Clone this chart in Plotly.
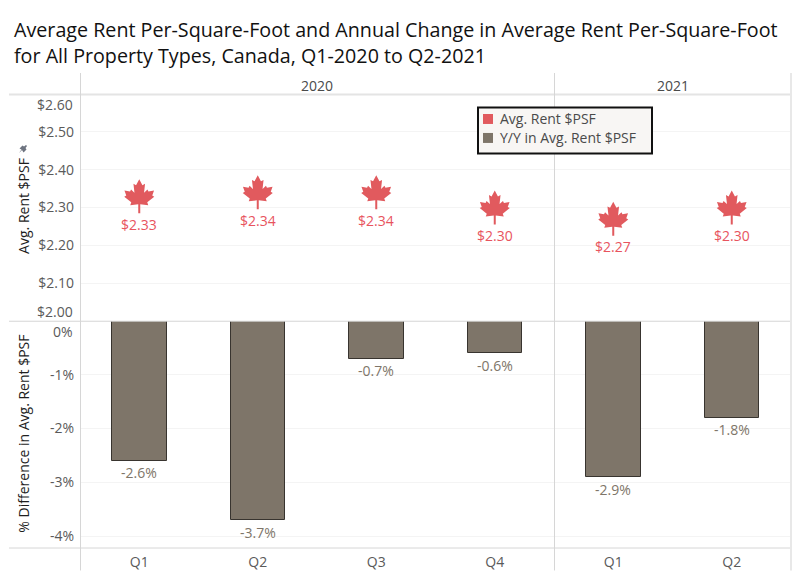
import plotly.graph_objects as go

# Quarterly rent figures, Canada
years = ["2020", "2021"]
quarters = ["Q1", "Q2", "Q3", "Q4", "Q1", "Q2"]
avg_rent = [2.33, 2.34, 2.34, 2.30, 2.27, 2.30]
yoy_change = [-2.6, -3.7, -0.7, -0.6, -2.9, -1.8]

rent_ticks = [2.10, 2.20, 2.30, 2.40, 2.50]
rent_edge_ticks = [2.00, 2.60]
change_ticks = [-1, -2, -3, -4]

title_lines = [
    "Average Rent Per-Square-Foot and Annual Change in Average Rent Per-Square-Foot",
    "for All Property Types, Canada, Q1-2020 to Q2-2021",
]

RED = "#E15A5E"
RED_TEXT = "#E8545E"
TAUPE = "#7E7569"
RULE = "#D6D6D6"
GRID = "#F4F4F4"
TICK_TEXT = "#5A5A5A"
FONT = "Open Sans"
TEXT_SIZE = 14

W, H = 800, 581
L, R, T, B = 80, 791, 94, 548.5


def px(x):
    return (x - L) / (R - L)


def py(y):
    return 1 - (y - T) / (B - T)


# Outline of the maple leaf in pixels around its centre (right half, y up)
half_leaf = [
    (0, 17), (3.2, 11), (5.8, 12.4), (4.8, 3.4), (8.2, 6.6), (9.2, 4.6),
    (14.8, 5.6), (13, 0.6), (15, -0.6), (8, -6.2), (9, -9), (1, -8),
    (1, -17),
]
leaf_points = half_leaf + [(-x, y) for x, y in reversed(half_leaf)]
leaf_path = "M " + " L ".join(f"{x},{y}" for x, y in leaf_points) + " Z"

# Small pushpin beside the upper axis title
pin_points = [(-3.5, 0.5), (-0.5, 3.5), (1, 2.5), (3, 4), (4, 3), (2.5, 1),
              (3.5, -0.5), (0.5, -3.5), (-1, -1), (-4, -4), (-1.5, -0.5)]
pin_path = "M " + " L ".join(f"{x},{y}" for x, y in pin_points) + " Z"

x_pos = list(range(len(quarters)))

fig = go.Figure()

fig.add_trace(go.Scatter(
    x=x_pos, y=avg_rent, mode="markers", name="Avg. Rent $PSF",
    marker=dict(symbol="square", size=8, color=RED),
    xaxis="x", yaxis="y", showlegend=False,
    hovertemplate="%{y:$.2f}<extra></extra>",
))
fig.add_trace(go.Bar(
    x=x_pos, y=yoy_change, width=0.46, name="Y/Y in Avg. Rent $PSF",
    marker=dict(color=TAUPE, line=dict(color="#38342F", width=1)),
    xaxis="x2", yaxis="y2", showlegend=False,
    hovertemplate="%{y:.1f}%<extra></extra>",
))

shapes = []
annotations = []


def rule(x0, y0, x1, y1, width=1, color=RULE):
    shapes.append(dict(type="line", xref="paper", yref="paper",
                       x0=px(x0), y0=py(y0), x1=px(x1), y1=py(y1),
                       line=dict(color=color, width=width), layer="above"))


def label(text, x, y, xref="paper", yref="paper", xanchor="center", yshift=0,
          size=TEXT_SIZE, color=TICK_TEXT, angle=0):
    annotations.append(dict(xref=xref, yref=yref, x=x, y=y, xanchor=xanchor,
                            yanchor="middle", yshift=yshift, text=text,
                            showarrow=False, textangle=angle,
                            font=dict(size=size, color=color, family=FONT)))


# Frame: header, panel separators, year dividers
rule(9, 94.5, R, 94.5, width=2, color="#E4E4E4")
rule(9, 321.5, R, 321.5)
rule(9, 548.5, R, 548.5)
rule(80.5, 73, 80.5, 571)
rule(554.5, 73, 554.5, 571)
rule(791, 73, 791, 571, width=2, color="#E8E8E8")

# Maple leaves anchored to the rent values, with value labels below
for x, v in zip(x_pos, avg_rent):
    shapes.append(dict(type="path", xref="x", yref="y",
                       xsizemode="pixel", ysizemode="pixel",
                       xanchor=x, yanchor=v, path=leaf_path,
                       fillcolor=RED, line=dict(width=0), layer="above"))
    label(f"${v:.2f}", x, v, xref="x", yref="y", yshift=-28, color=RED_TEXT)

# Bar value labels
for x, v in zip(x_pos, yoy_change):
    label(f"{v:.1f}%", x, v, xref="x2", yref="y2", yshift=-12, color=TAUPE)

# Year headers span their quarters
year_centres = [1.5, 4.5]
for year, centre in zip(years, year_centres):
    label(year, centre, py(85), xref="x", color="#4A4A4A")

# The outermost tick labels sit inside the panel edges
for v, shift in zip(rent_edge_ticks, [10, -10]):
    label(f"${v:.2f}", px(74.5), v, yref="y", xanchor="right", yshift=shift)
label("0%", px(74.5), 0, yref="y2", xanchor="right", yshift=-10)

# Axis titles
for text, centre in [("Avg. Rent $PSF", 206), ("% Difference in Avg. Rent $PSF", 434)]:
    label(text, px(24), py(centre), color="#1E1E1E", angle=-90)
shapes.append(dict(type="path", xref="paper", yref="paper",
                   xsizemode="pixel", ysizemode="pixel",
                   xanchor=px(23), yanchor=py(149), path=pin_path,
                   fillcolor="#6E7480", line=dict(width=0)))

# Floating key
shapes.append(dict(type="rect", xref="paper", yref="paper",
                   x0=px(478), y0=py(107.5), x1=px(652), y1=py(153.5),
                   fillcolor="#F8F6F4", line=dict(color="#111111", width=2),
                   layer="above"))
key_entries = [("Avg. Rent $PSF", RED, 119), ("Y/Y in Avg. Rent $PSF", TAUPE, 138)]
for name, colour, y in key_entries:
    shapes.append(dict(type="rect", xref="paper", yref="paper",
                       x0=px(483), y0=py(y - 5), x1=px(493), y1=py(y + 5),
                       fillcolor=colour, line=dict(width=0), layer="above"))
    label(name, px(498), py(y), xanchor="left", color="#4A4A4A")

common_x = dict(range=[-0.5, 5.5], showgrid=False, zeroline=False,
                showline=False, ticks="")
tick_font = dict(size=TEXT_SIZE, color=TICK_TEXT, family=FONT)

fig.update_layout(
    width=W, height=H,
    margin=dict(l=L, r=W - R, t=T, b=H - B, pad=0),
    paper_bgcolor="white", plot_bgcolor="white",
    title=dict(text="<br>".join(title_lines), x=14 / W, xanchor="left",
               y=1 - 37 / H, yanchor="middle", yref="container",
               font=dict(size=19.7, color="#111111", family=FONT)),
    xaxis=dict(domain=[0, 1], anchor="y", showticklabels=False, **common_x),
    xaxis2=dict(domain=[0, 1], anchor="y2", tickmode="array", tickvals=x_pos,
                ticktext=quarters, tickfont=tick_font, ticklabelstandoff=4,
                **common_x),
    yaxis=dict(domain=[0.5, 1], range=[2.0, 2.6], tickmode="array",
               tickvals=rent_ticks, ticktext=[f"${v:.2f}" for v in rent_ticks],
               tickfont=tick_font, gridcolor=GRID, zeroline=False, ticks="",
               ticklabelstandoff=5),
    yaxis2=dict(domain=[0, 0.5], range=[-4.22, 0], tickmode="array",
                tickvals=change_ticks, ticktext=[f"{v}%" for v in change_ticks],
                tickfont=tick_font, gridcolor=GRID, zeroline=False, ticks="",
                ticklabelstandoff=5),
    shapes=shapes,
    annotations=annotations,
    bargap=0,
    hovermode="closest",
)

fig.write_html("out.html")
